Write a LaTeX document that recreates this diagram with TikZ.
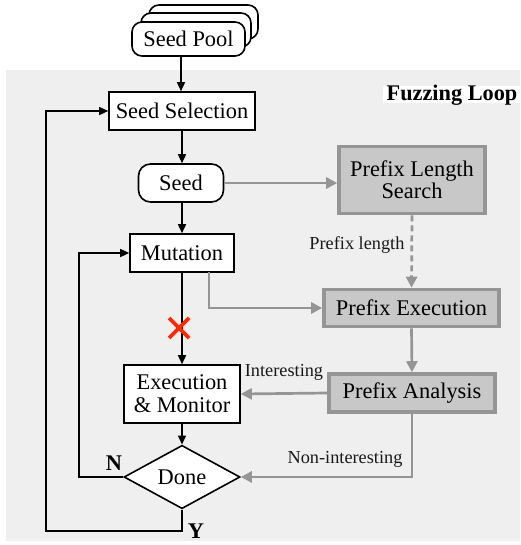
\documentclass[tikz,border=0pt]{standalone}
\usepackage{fontspec}
\setmainfont{Liberation Serif}
\usetikzlibrary{arrows.meta,shapes.geometric,positioning,calc}
\definecolor{loopbg}{HTML}{EFEFEF}
\definecolor{prefixfill}{HTML}{C8C8C8}
\definecolor{prefixline}{HTML}{959595}
\definecolor{crossred}{HTML}{FF2A00}
\tikzset{
  mainfont/.style={font=\fontsize{22.4}{24}\selectfont},
  labelfont/.style={font=\fontsize{18.3}{20}\selectfont},
  stepbox/.style={draw=black, line width=1.6pt, fill=white, inner sep=0pt, align=center, mainfont},
  prefixbox/.style={draw=prefixline, line width=3.6pt, fill=prefixfill, inner sep=0pt, align=center, mainfont},
  flow/.style={draw=black, line width=1.5pt, -{Triangle[length=9pt,width=8pt]}},
  pflow/.style={draw=prefixline, line width=2.7pt, -{Triangle[length=11pt,width=11pt]}},
  edgelabel/.style={labelfont, text=black!90},
  yn/.style={font=\fontsize{22.4}{24}\selectfont\bfseries}
}
\begin{document}
\begin{tikzpicture}[x=1pt,y=-1pt]
\useasboundingbox (0,0) rectangle (520,545);
% loop area
\fill[loopbg] (6,70) rectangle (520,541);
\fill[white] (383,86) rectangle (520,103);
\node[font=\fontsize{22.3}{24}\selectfont\bfseries] (looptitle) at (452,95) {Fuzzing Loop};

% seed pool: stacked cards
\draw[line width=1.6pt, fill=white, rounded corners=10pt] (149,5) rectangle (258,39);
\draw[line width=1.6pt, fill=white, rounded corners=10pt] (141,13) rectangle (251,47);
\node[stepbox, rounded corners=10pt, minimum width=113pt, minimum height=34pt] (pool) at (188.5,39) {Seed Pool};

% main flow
\node[stepbox, minimum width=146pt, minimum height=38pt] (sel) at (182,111) {Seed Selection};
\node[stepbox, rounded corners=12pt, minimum width=85pt, minimum height=38pt] (seed) at (181,183) {Seed};
\node[stepbox, minimum width=104pt, minimum height=38pt] (mut) at (182,253) {Mutation};
\node[stepbox, minimum width=116pt, minimum height=58pt] (em) at (182,394) {Execution\\[-1pt]\& Monitor};
\node[stepbox, shape=diamond, minimum width=116pt, minimum height=48pt] (done) at (182,477) {Done};

% prefix components
\node[prefixbox, minimum width=146pt, minimum height=67pt] (pls) at (412,180) {Prefix Length\\[-2pt]Search};
\node[prefixbox, minimum width=175pt, minimum height=37pt] (pex) at (411.5,308) {Prefix Execution};
\node[prefixbox, minimum width=166pt, minimum height=38pt] (pa) at (412,393) {Prefix Analysis};

% black connectors
\draw[flow] (181,56) -- (sel.north -| 181,0);
\draw[flow] (sel.south) -- (seed.north -| sel.south);
\draw[flow] (seed.south -| sel.south) -- (mut.north);
\draw[flow] (mut.south) -- (em.north);
\draw[flow] (em.south) -- (done.north);

% failure mark on the direct path
\coordinate (xmark) at (179,328);
\draw[crossred, line width=3.8pt] ($(xmark)+(-10,-10)$) -- ($(xmark)+(10,10)$)
      ($(xmark)+(-10,10)$) -- ($(xmark)+(10,-10)$);

% loop-backs
\coordinate (nturn) at (79,477);
\draw[flow] (done.west) -- (nturn) |- (mut.west);
\node[yn] (nlabel) at (114,463) {N};
\coordinate (yturn) at (46,531);
\draw[flow] (done.south) |- (yturn) |- (sel.west);
\node[yn] (ylabel) at (196,531) {Y};

% gray connectors
\draw[pflow] (seed.east) -- (seed.east -| pls.west);
\draw[pflow, dashed, dash pattern=on 6pt off 4pt] (pls.south) -- (pex.north);
\node[edgelabel, anchor=east] (plen) at (408,245) {Prefix length};
\coordinate (mutout) at (209,272);
\draw[pflow] (mutout) |- (pex.west);
\draw[pflow] (pex.south) -- (pa.north);
\draw[pflow] (pa.west) -- (em.east);
\node[edgelabel] (intl) at (284,372) {Interesting};
\draw[pflow] (pa.south) |- (done.east);
\node[edgelabel] (nonint) at (345,459) {Non-interesting};
\end{tikzpicture}
\end{document}
